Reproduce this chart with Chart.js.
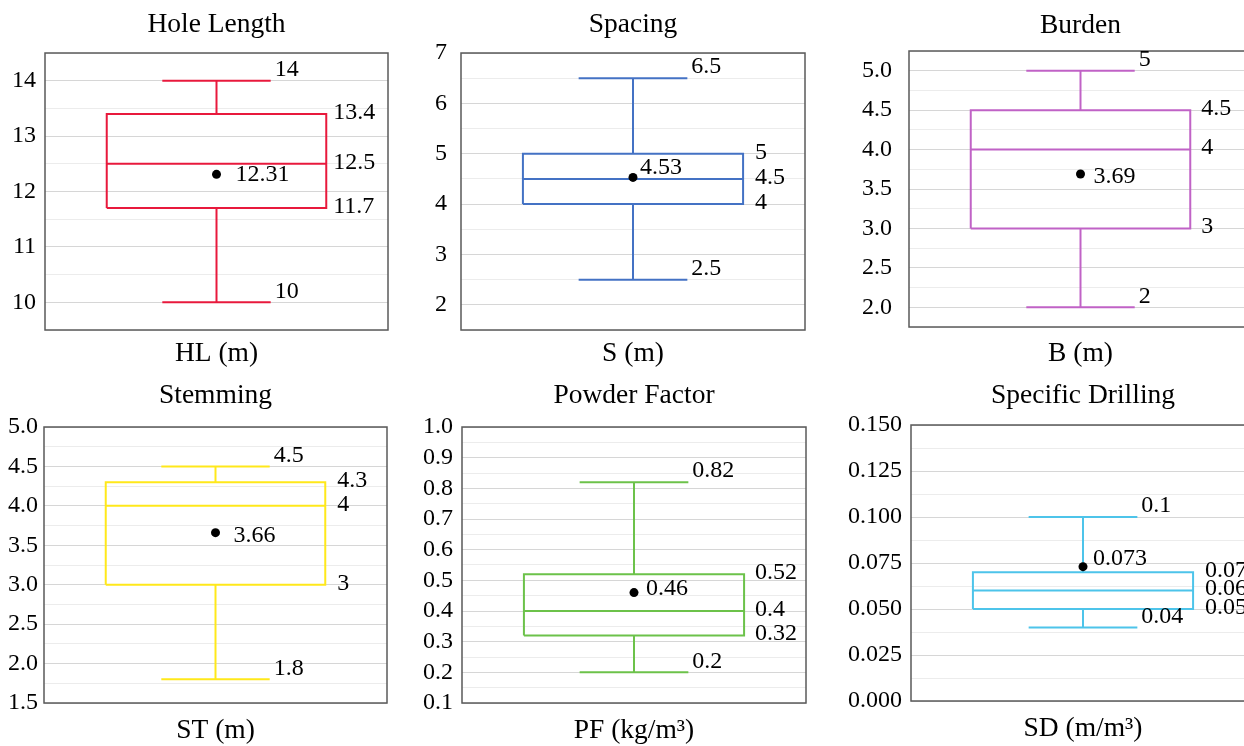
<!DOCTYPE html>
<html><head><meta charset="utf-8">
<script src="https://cdn.jsdelivr.net/npm/chart.js@4.4.1/dist/chart.umd.min.js"></script>
<style>
html,body{margin:0;padding:0;background:#fff;overflow:hidden;width:1244px;height:746px;position:relative;}
canvas{position:absolute;}
</style></head><body>
<script>
// ---- data ----
const titles = ["Hole Length", "Spacing", "Burden", "Stemming", "Powder Factor", "Specific Drilling"];
const axisLabels = ["HL (m)", "S (m)", "B (m)", "ST (m)", "PF (kg/m³)", "SD (m/m³)"];
const minValues = [10, 2.5, 2, 1.8, 0.2, 0.04];
const q1Values = [11.7, 4, 3, 3, 0.32, 0.05];
const medianValues = [12.5, 4.5, 4, 4, 0.4, 0.06];
const q3Values = [13.4, 5, 4.5, 4.3, 0.52, 0.07];
const maxValues = [14, 6.5, 5, 4.5, 0.82, 0.1];
const meanValues = [12.31, 4.53, 3.69, 3.66, 0.46, 0.073];
const yMin = [9.5, 1.5, 1.75, 1.5, 0.1, 0];
const yMax = [14.5, 7, 5.25, 5, 1.0, 0.15];
const yMajorStep = [1, 1, 0.5, 0.5, 0.1, 0.025];
const yMinorStep = [0.5, 0.5, 0.25, 0.25, 0.05, 0.0125];
const tickDecimals = [0, 0, 1, 1, 1, 3];

// ---- styles / layout ----
const colors = ['#E8193C', '#4472C4', '#C062C6', '#FFE81A', '#6CC24A', '#4DC4EA'];
const panels = [
  {cx:0,   cy:0,   cw:410, ch:375, L:45,  R:388,  T:53,  B:330, titleY:25,  axisY:354, tickPad:9,  meanDx:19, meanDy:0,  boxDx:7},
  {cx:410, cy:0,   cw:410, ch:375, L:461, R:805,  T:53,  B:330, titleY:25,  axisY:354, tickPad:14, meanDx:7,  meanDy:-10, boxDx:12},
  {cx:820, cy:0,   cw:450, ch:375, L:909, R:1252, T:51,  B:327, titleY:26,  axisY:354, tickPad:17, meanDx:13, meanDy:3,  boxDx:11},
  {cx:0,   cy:375, cw:410, ch:371, L:44,  R:387,  T:427, B:703, titleY:396, axisY:731, tickPad:6,  meanDx:18, meanDy:3,  boxDx:12},
  {cx:410, cy:375, cw:410, ch:371, L:462, R:806,  T:427, B:703, titleY:396, axisY:731, tickPad:9,  meanDx:12, meanDy:-4, boxDx:11},
  {cx:820, cy:375, cw:450, ch:371, L:911, R:1255, T:425, B:701, titleY:396, axisY:729, tickPad:9,  meanDx:10, meanDy:-8, boxDx:12}
];
const BOX_L = 0.18, BOX_R = 0.82, CAP_L = 0.342, CAP_R = 0.658, MID = 0.5;
const FONT = '"Liberation Serif", "Times New Roman", serif';
const TITLE_SIZE = 27.5, TICK_SIZE = 24, LH = 1.2;

function isMajor(v, step) {
  const r = v / step;
  return Math.abs(r - Math.round(r)) < 1e-6;
}

function makePlugin(i) {
  return {
    id: 'boxDecor' + i,
    beforeDatasetsDraw(chart) {
      const a = chart.chartArea, c = chart.ctx;
      c.save();
      c.strokeStyle = '#5a5a5a';
      c.lineWidth = 1.5;
      c.strokeRect(a.left, a.top, a.right - a.left, a.bottom - a.top);
      c.restore();
    },
    afterDatasetsDraw(chart) {
      const c = chart.ctx, xs = chart.scales.x, ys = chart.scales.y, p = panels[i];
      c.save();
      c.font = TICK_SIZE + 'px ' + FONT;
      c.fillStyle = '#000';
      c.textAlign = 'left';
      c.textBaseline = 'middle';
      const capR = xs.getPixelForValue(CAP_R);
      const boxR = xs.getPixelForValue(BOX_R);
      const mid = xs.getPixelForValue(MID);
      c.fillText(String(maxValues[i]), capR + 4, ys.getPixelForValue(maxValues[i]) - 11);
      c.fillText(String(minValues[i]), capR + 4, ys.getPixelForValue(minValues[i]) - 11);
      c.fillText(String(q3Values[i]), boxR + p.boxDx, ys.getPixelForValue(q3Values[i]) - 1.5);
      c.fillText(String(medianValues[i]), boxR + p.boxDx, ys.getPixelForValue(medianValues[i]) - 1.5);
      c.fillText(String(q1Values[i]), boxR + p.boxDx, ys.getPixelForValue(q1Values[i]) - 1.5);
      c.fillText(String(meanValues[i]), mid + p.meanDx, ys.getPixelForValue(meanValues[i]) + p.meanDy);
      c.restore();
    }
  };
}

function lineDs(points, color, w) {
  return {data: points, showLine: true, borderColor: color, borderWidth: w, pointRadius: 0,
          pointHoverRadius: 0, fill: false, tension: 0, borderJoinStyle: 'miter', borderCapStyle: 'butt'};
}

titles.forEach((t, i) => {
  const p = panels[i];
  const cv = document.createElement('canvas');
  cv.width = p.cw; cv.height = p.ch;
  cv.style.left = p.cx + 'px'; cv.style.top = p.cy + 'px';
  cv.style.width = p.cw + 'px'; cv.style.height = p.ch + 'px';
  document.body.appendChild(cv);

  const tlh = TITLE_SIZE * LH;
  const titlePadTop = p.titleY - p.cy - tlh / 2;
  const titlePadBottom = (p.T - p.cy) - titlePadTop - tlh;
  const xh = p.cy + p.ch - p.B;
  const axisPadBottom = (p.cy + p.ch) - p.axisY - tlh / 2;
  const col = colors[i];

  const datasets = [
    {data: [{x: MID, y: meanValues[i]}], showLine: false, pointRadius: 4.5, pointBackgroundColor: '#000',
     pointBorderColor: '#000', pointBorderWidth: 0},
    lineDs([{x: BOX_L, y: q1Values[i]}, {x: BOX_R, y: q1Values[i]}, {x: BOX_R, y: q3Values[i]},
            {x: BOX_L, y: q3Values[i]}, {x: BOX_L, y: q1Values[i]}], col, 2),
    lineDs([{x: BOX_L, y: medianValues[i]}, {x: BOX_R, y: medianValues[i]}], col, 2),
    lineDs([{x: MID, y: q3Values[i]}, {x: MID, y: maxValues[i]}], col, 2),
    lineDs([{x: MID, y: minValues[i]}, {x: MID, y: q1Values[i]}], col, 2),
    lineDs([{x: CAP_L, y: maxValues[i]}, {x: CAP_R, y: maxValues[i]}], col, 2),
    lineDs([{x: CAP_L, y: minValues[i]}, {x: CAP_R, y: minValues[i]}], col, 2)
  ];

  new Chart(cv, {
    type: 'scatter',
    data: {datasets},
    plugins: [makePlugin(i)],
    options: {
      responsive: false, animation: false, devicePixelRatio: 1,
      layout: {padding: {left: 0, right: p.cx + p.cw - p.R, top: 0, bottom: 0}},
      plugins: {
        legend: {display: false},
        tooltip: {enabled: false},
        title: {
          display: true, text: t, color: '#000', fullSize: false,
          font: {family: FONT, size: TITLE_SIZE, weight: 'normal', lineHeight: LH},
          padding: {top: titlePadTop, bottom: titlePadBottom}
        }
      },
      scales: {
        x: {
          type: 'linear', min: 0, max: 1,
          grid: {display: false}, border: {display: false},
          ticks: {display: false},
          title: {display: true, text: axisLabels[i], color: '#000',
                  font: {family: FONT, size: TITLE_SIZE, weight: 'normal', lineHeight: LH},
                  padding: {top: 0, bottom: axisPadBottom}},
          afterFit(s) { s.height = xh; }
        },
        y: {
          type: 'linear', min: yMin[i], max: yMax[i],
          border: {display: false},
          grid: {
            drawTicks: false, lineWidth: 1,
            color: (ctx) => (ctx.tick && isMajor(ctx.tick.value, yMajorStep[i])) ? '#d6d6d6' : '#ececec'
          },
          ticks: {
            stepSize: yMinorStep[i], autoSkip: false, padding: p.tickPad, color: '#000',
            font: {family: FONT, size: TICK_SIZE, lineHeight: 1},
            callback: (v) => isMajor(v, yMajorStep[i]) ? Number(v).toFixed(tickDecimals[i]) : ''
          },
          afterFit(s) { s.width = p.L - p.cx; }
        }
      }
    }
  });
});
</script>
</body></html>
